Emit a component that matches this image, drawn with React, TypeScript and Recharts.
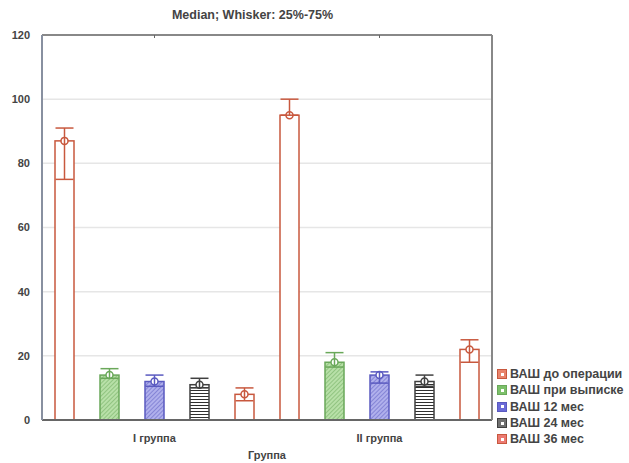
import { BarChart, Bar, XAxis, YAxis, CartesianGrid, ErrorBar } from 'recharts';

const categories = ['I группа', 'II группа'];
const seriesNames = ['ВАШ до операции', 'ВАШ при выписке', 'ВАШ 12 мес', 'ВАШ 24 мес', 'ВАШ 36 мес'];

// medians and 25% / 75% whiskers, one value per group
const preOp = [87, 95];
const preOpQ25 = [75, 95];
const preOpQ75 = [91, 100];
const discharge = [14, 18];
const dischargeQ25 = [13, 16.5];
const dischargeQ75 = [16, 21];
const month12 = [12, 14];
const month12Q25 = [10.5, 11.5];
const month12Q75 = [14, 15];
const month24 = [11, 12];
const month24Q25 = [10, 10.5];
const month24Q75 = [13, 14];
const month36 = [8, 22];
const month36Q25 = [6, 18];
const month36Q75 = [10, 25];

const yTicks = [0, 20, 40, 60, 80, 100, 120];

const medians = [preOp, discharge, month12, month24, month36];
const lows = [preOpQ25, dischargeQ25, month12Q25, month24Q25, month36Q25];
const highs = [preOpQ75, dischargeQ75, month12Q75, month24Q75, month36Q75];

const data = categories.map((name, i) => {
  const row: Record<string, any> = { name };
  medians.forEach((arr, s) => {
    row[`s${s}`] = arr[i];
    row[`e${s}`] = [arr[i] - lows[s][i], highs[s][i] - arr[i]];
  });
  return row;
});

const styles = [
  { stroke: '#c8583e', fill: '#ffffff', swatch: '#e8846c' },
  { stroke: '#6aa85a', fill: 'url(#hatchGreen)', swatch: '#7cc06a' },
  { stroke: '#5a5ac0', fill: 'url(#hatchBlue)', swatch: '#6a6ad8' },
  { stroke: '#404040', fill: 'url(#stripeBlack)', swatch: '#707070' },
  { stroke: '#c8583e', fill: '#ffffff', swatch: '#ec7a72' },
];

const font = '"Liberation Sans", Arial, sans-serif';

function makeShape(s: number) {
  return (props: any) => {
    const { x, y, width, height } = props;
    const st = styles[s];
    return (
      <g>
        <rect x={x} y={y} width={width} height={height} fill={st.fill} stroke={st.stroke} strokeWidth={1.5} />
        <circle cx={x + width / 2} cy={y} r={3.5} fill="#fff" stroke={st.stroke} strokeWidth={1.5} />
      </g>
    );
  };
}

function LegendBox() {
  return (
    <div style={{ position: 'absolute', left: 497, top: 366, fontFamily: font, fontWeight: 'bold', fontSize: 12.5, color: '#444' }}>
      {seriesNames.map((n, i) => (
        <div key={n} style={{ display: 'flex', alignItems: 'center', height: 16.3, whiteSpace: 'nowrap' }}>
          <span
            style={{
              width: 8,
              height: 8,
              background: styles[i].swatch,
              border: `1px solid ${styles[i].stroke}`,
              marginRight: 3,
              display: 'inline-flex',
              alignItems: 'center',
              justifyContent: 'center',
            }}
          >
            <span style={{ width: 3, height: 3, background: '#fff' }} />
          </span>
          {n}
        </div>
      ))}
    </div>
  );
}

export default function App() {
  return (
    <div style={{ position: 'absolute', left: 0, top: 0, width: 629, height: 463, background: '#fff' }}>
      <div
        style={{
          position: 'absolute',
          left: 0,
          width: 505,
          top: 8,
          textAlign: 'center',
          fontFamily: font,
          fontWeight: 'bold',
          fontSize: 12.5,
          color: '#444',
        }}
      >
        Median; Whisker: 25%-75%
      </div>
      <BarChart
        width={629}
        height={463}
        data={data}
        margin={{ top: 35, right: 137, bottom: 0, left: 0 }}
        barCategoryGap={13}
        barGap={26}
      >
        <defs>
          <pattern id="hatchGreen" width="3" height="3" patternUnits="userSpaceOnUse" patternTransform="rotate(45)">
            <rect width="3" height="3" fill="#b8e0a8" />
            <line x1="0" y1="0" x2="0" y2="3" stroke="#6aa85a" strokeWidth="1" />
          </pattern>
          <pattern id="hatchBlue" width="3" height="3" patternUnits="userSpaceOnUse" patternTransform="rotate(45)">
            <rect width="3" height="3" fill="#b0b0ec" />
            <line x1="0" y1="0" x2="0" y2="3" stroke="#5a5ac0" strokeWidth="1" />
          </pattern>
          <pattern id="stripeBlack" width="4" height="3" patternUnits="userSpaceOnUse">
            <rect width="4" height="3" fill="#ffffff" />
            <line x1="0" y1="0.5" x2="4" y2="0.5" stroke="#303030" strokeWidth="1" />
          </pattern>
        </defs>
        <CartesianGrid vertical={false} stroke="#e6e6e6" strokeWidth={1.5} />
        <XAxis
          dataKey="name"
          height={43}
          tickLine={false}
          tickMargin={8}
          axisLine={{ stroke: '#666', strokeWidth: 2 }}
          tick={{ fontFamily: font, fontWeight: 'bold', fontSize: 11, fill: '#444' }}
          label={{ value: 'Группа', position: 'insideBottom', offset: 4, style: { fontFamily: font, fontWeight: 'bold', fontSize: 11, fill: '#444' } }}
        />
        <XAxis
          xAxisId="top"
          dataKey="name"
          orientation="top"
          height={1}
          mirror
          tickSize={3}
          tickFormatter={() => ''}
          axisLine={{ stroke: '#888', strokeWidth: 2 }}
          tickLine={{ stroke: '#666' }}
        />
        <YAxis
          domain={[0, 120]}
          ticks={yTicks}
          width={42}
          tickLine={false}
          tickMargin={6}
          axisLine={{ stroke: '#8890a0', strokeWidth: 2 }}
          tick={{ fontFamily: font, fontWeight: 'bold', fontSize: 11, fill: '#444' }}
        />
        <YAxis
          yAxisId="right"
          orientation="right"
          domain={[0, 120]}
          ticks={yTicks}
          width={1}
          mirror
          tickSize={3}
          tickFormatter={() => ''}
          axisLine={{ stroke: '#888', strokeWidth: 2 }}
          tickLine={{ stroke: '#666' }}
        />
        {seriesNames.map((n, s) => (
          <Bar key={n} dataKey={`s${s}`} name={n} shape={makeShape(s)} isAnimationActive={false}>
            <ErrorBar dataKey={`e${s}`} width={9} stroke={styles[s].stroke} strokeWidth={1.5} />
          </Bar>
        ))}
      </BarChart>
      <LegendBox />
    </div>
  );
}
